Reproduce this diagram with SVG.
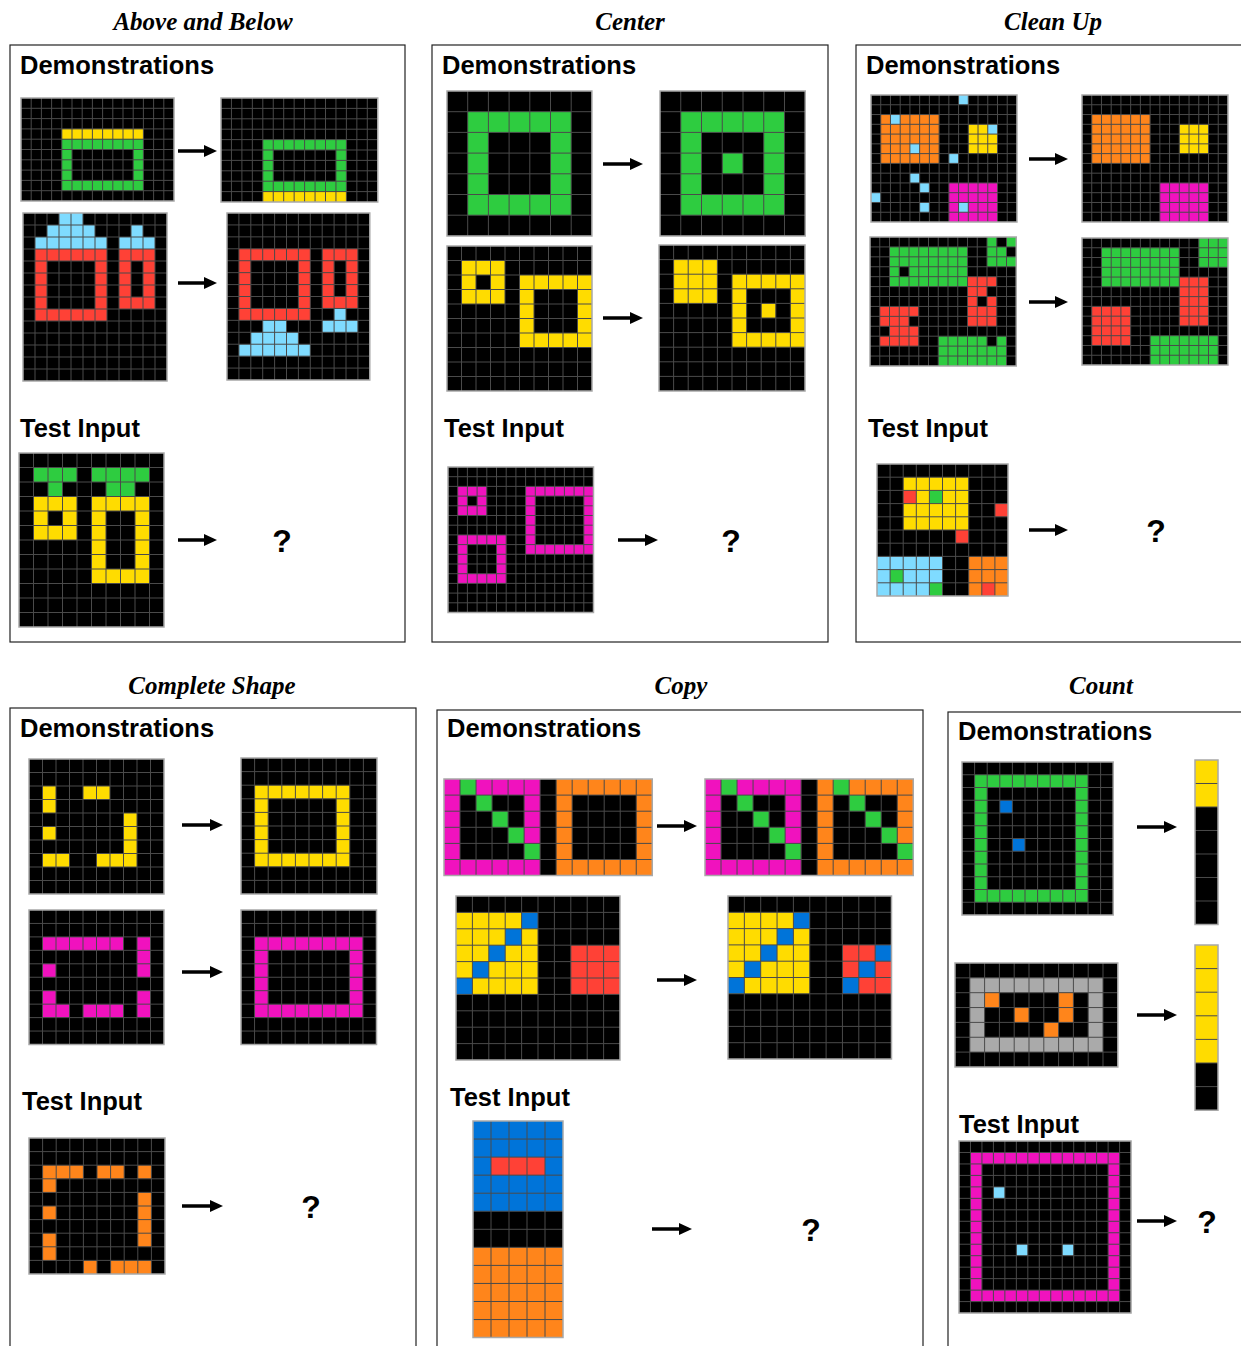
<svg xmlns="http://www.w3.org/2000/svg" xmlns:xlink="http://www.w3.org/1999/xlink" width="1241" height="1346" viewBox="0 0 1241 1346">
<style>
.bx{fill:none;stroke:#222;stroke-width:1.2}
.ti{font-family:"Liberation Serif","Times New Roman",serif;font-weight:bold;font-style:italic;font-size:25px;text-anchor:middle;fill:#000}
.hd{font-family:"Liberation Sans",Arial,sans-serif;font-weight:bold;font-size:25.5px;fill:#000}
.q{font-family:"Liberation Sans",Arial,sans-serif;font-weight:bold;font-size:32px;text-anchor:middle;fill:#000}
.k{fill:#000}.G{fill:#2ECC40}.Y{fill:#FFDC00}.L{fill:#7FDBFF}.R{fill:#FF4136}.P{fill:#F012BE}.O{fill:#FF851B}.B{fill:#0074D9}.S{fill:#AAAAAA}
.eo{fill-rule:evenodd}
.bd{fill:none;stroke:#a8a8a8;stroke-width:1.5;vector-effect:non-scaling-stroke}
.ar{stroke:#000;stroke-width:3.5;fill:none;marker-end:url(#ah)}
</style>
<defs>
<marker id="ah" viewBox="0 0 13 12" refX="5" refY="6" markerWidth="13" markerHeight="12" markerUnits="userSpaceOnUse" orient="auto"><path d="M0,0L13,6L0,12z" fill="#000"/></marker>
<path id="g15x10" fill="none" stroke="#4a4a4a" stroke-width="1" vector-effect="non-scaling-stroke" d="M1,0V10M2,0V10M3,0V10M4,0V10M5,0V10M6,0V10M7,0V10M8,0V10M9,0V10M10,0V10M11,0V10M12,0V10M13,0V10M14,0V10M0,1H15M0,2H15M0,3H15M0,4H15M0,5H15M0,6H15M0,7H15M0,8H15M0,9H15"/>
<path id="g12x14" fill="none" stroke="#4a4a4a" stroke-width="1" vector-effect="non-scaling-stroke" d="M1,0V14M2,0V14M3,0V14M4,0V14M5,0V14M6,0V14M7,0V14M8,0V14M9,0V14M10,0V14M11,0V14M0,1H12M0,2H12M0,3H12M0,4H12M0,5H12M0,6H12M0,7H12M0,8H12M0,9H12M0,10H12M0,11H12M0,12H12M0,13H12"/>
<path id="g10x12" fill="none" stroke="#4a4a4a" stroke-width="1" vector-effect="non-scaling-stroke" d="M1,0V12M2,0V12M3,0V12M4,0V12M5,0V12M6,0V12M7,0V12M8,0V12M9,0V12M0,1H10M0,2H10M0,3H10M0,4H10M0,5H10M0,6H10M0,7H10M0,8H10M0,9H10M0,10H10M0,11H10"/>
<path id="g7x7" fill="none" stroke="#4a4a4a" stroke-width="1" vector-effect="non-scaling-stroke" d="M1,0V7M2,0V7M3,0V7M4,0V7M5,0V7M6,0V7M0,1H7M0,2H7M0,3H7M0,4H7M0,5H7M0,6H7"/>
<path id="g10x10" fill="none" stroke="#4a4a4a" stroke-width="1" vector-effect="non-scaling-stroke" d="M1,0V10M2,0V10M3,0V10M4,0V10M5,0V10M6,0V10M7,0V10M8,0V10M9,0V10M0,1H10M0,2H10M0,3H10M0,4H10M0,5H10M0,6H10M0,7H10M0,8H10M0,9H10"/>
<path id="g15x15" fill="none" stroke="#4a4a4a" stroke-width="1" vector-effect="non-scaling-stroke" d="M1,0V15M2,0V15M3,0V15M4,0V15M5,0V15M6,0V15M7,0V15M8,0V15M9,0V15M10,0V15M11,0V15M12,0V15M13,0V15M14,0V15M0,1H15M0,2H15M0,3H15M0,4H15M0,5H15M0,6H15M0,7H15M0,8H15M0,9H15M0,10H15M0,11H15M0,12H15M0,13H15M0,14H15"/>
<path id="g15x13" fill="none" stroke="#4a4a4a" stroke-width="1" vector-effect="non-scaling-stroke" d="M1,0V13M2,0V13M3,0V13M4,0V13M5,0V13M6,0V13M7,0V13M8,0V13M9,0V13M10,0V13M11,0V13M12,0V13M13,0V13M14,0V13M0,1H15M0,2H15M0,3H15M0,4H15M0,5H15M0,6H15M0,7H15M0,8H15M0,9H15M0,10H15M0,11H15M0,12H15"/>
<path id="g13x6" fill="none" stroke="#4a4a4a" stroke-width="1" vector-effect="non-scaling-stroke" d="M1,0V6M2,0V6M3,0V6M4,0V6M5,0V6M6,0V6M7,0V6M8,0V6M9,0V6M10,0V6M11,0V6M12,0V6M0,1H13M0,2H13M0,3H13M0,4H13M0,5H13"/>
<path id="g5x12" fill="none" stroke="#4a4a4a" stroke-width="1" vector-effect="non-scaling-stroke" d="M1,0V12M2,0V12M3,0V12M4,0V12M0,1H5M0,2H5M0,3H5M0,4H5M0,5H5M0,6H5M0,7H5M0,8H5M0,9H5M0,10H5M0,11H5"/>
<path id="g12x12" fill="none" stroke="#4a4a4a" stroke-width="1" vector-effect="non-scaling-stroke" d="M1,0V12M2,0V12M3,0V12M4,0V12M5,0V12M6,0V12M7,0V12M8,0V12M9,0V12M10,0V12M11,0V12M0,1H12M0,2H12M0,3H12M0,4H12M0,5H12M0,6H12M0,7H12M0,8H12M0,9H12M0,10H12M0,11H12"/>
<path id="g1x7" fill="none" stroke="#4a4a4a" stroke-width="1" vector-effect="non-scaling-stroke" d="M0,1H1M0,2H1M0,3H1M0,4H1M0,5H1M0,6H1"/>
<path id="g11x7" fill="none" stroke="#4a4a4a" stroke-width="1" vector-effect="non-scaling-stroke" d="M1,0V7M2,0V7M3,0V7M4,0V7M5,0V7M6,0V7M7,0V7M8,0V7M9,0V7M10,0V7M0,1H11M0,2H11M0,3H11M0,4H11M0,5H11M0,6H11"/>
</defs>
<rect width="1241" height="1346" fill="#fff"/>

<!-- Panel: Above and Below -->
<g id="panel-above-below">
<rect class="bx" x="10" y="45" width="395" height="597"/>
<text class="ti" x="203" y="30">Above and Below</text>
<text class="hd" x="20" y="74">Demonstrations</text>
<text class="hd" x="20" y="437">Test Input</text>
<g id="ab-d1-in" transform="translate(21,98) scale(10.2,10.3)">
<rect class="k" width="15" height="10"/>
<rect class="Y" x="4" y="3" width="8" height="1"/>
<path class="G eo" d="M4,4h8v5h-8zM5,5h6v3h-6z"/>
<use href="#g15x10"/><rect class="bd" width="15" height="10"/>
</g>
<g id="ab-d1-out" transform="translate(221,98) scale(10.45,10.4)">
<rect class="k" width="15" height="10"/>
<path class="G eo" d="M4,4h8v5h-8zM5,5h6v3h-6z"/>
<rect class="Y" x="4" y="9" width="8" height="1"/>
<use href="#g15x10"/><rect class="bd" width="15" height="10"/>
</g>
<g id="ab-d2-in" transform="translate(23,213) scale(12,12)">
<rect class="k" width="12" height="14"/>
<path class="L" d="M3,0h2v1h-2zM2,1h4v1h-4zM1,2h6v1h-6zM9,1h1v1h-1zM8,2h3v1h-3z"/>
<path class="R eo" d="M1,3h6v6h-6zM2,4h4v4h-4zM8,3h3v5h-3zM9,4h1v3h-1z"/>
<use href="#g12x14"/><rect class="bd" width="12" height="14"/>
</g>
<g id="ab-d2-out" transform="translate(227,213) scale(11.9,11.93)">
<rect class="k" width="12" height="14"/>
<path class="R eo" d="M1,3h6v6h-6zM2,4h4v4h-4zM8,3h3v5h-3zM9,4h1v3h-1z"/>
<path class="L" d="M3,9h2v1h-2zM2,10h4v1h-4zM1,11h6v1h-6zM9,8h1v1h-1zM8,9h3v1h-3z"/>
<use href="#g12x14"/><rect class="bd" width="12" height="14"/>
</g>
<g id="ab-test" transform="translate(19,453) scale(14.5,14.5)">
<rect class="k" width="10" height="12"/>
<path class="G" d="M1,1h3v1h-3zM5,1h4v1h-4zM2,2h1v1h-1zM6,2h2v1h-2z"/>
<path class="Y eo" d="M1,3h3v3h-3zM2,4h1v1h-1zM5,3h4v6h-4zM6,4h2v4h-2z"/>
<use href="#g10x12"/><rect class="bd" width="10" height="12"/>
</g>
<text class="q" x="282" y="552">?</text>
</g>

<!-- Panel: Center -->
<g id="panel-center">
<rect class="bx" x="432" y="45" width="396" height="597"/>
<text class="ti" x="630" y="30">Center</text>
<text class="hd" x="442" y="74">Demonstrations</text>
<text class="hd" x="444" y="437">Test Input</text>
<g id="ce-d1-in" transform="translate(447,91) scale(20.7,20.7)">
<rect class="k" width="7" height="7"/>
<path class="G eo" d="M1,1h5v5h-5zM2,2h3v3h-3z"/>
<use href="#g7x7"/><rect class="bd" width="7" height="7"/>
</g>
<g id="ce-d1-out" transform="translate(660,91) scale(20.75,20.7)">
<rect class="k" width="7" height="7"/>
<path class="G eo" d="M1,1h5v5h-5zM2,2h3v3h-3zM3,3h1v1h-1z"/>
<use href="#g7x7"/><rect class="bd" width="7" height="7"/>
</g>
<g id="ce-d2-in" transform="translate(447,246) scale(14.5,14.5)">
<rect class="k" width="10" height="10"/>
<path class="Y eo" d="M1,1h3v3h-3zM2,2h1v1h-1zM5,2h5v5h-5zM6,3h3v3h-3z"/>
<use href="#g10x10"/><rect class="bd" width="10" height="10"/>
</g>
<g id="ce-d2-out" transform="translate(659,245) scale(14.6,14.6)">
<rect class="k" width="10" height="10"/>
<path class="Y eo" d="M1,1h3v3h-3zM5,2h5v5h-5zM6,3h3v3h-3zM7,4h1v1h-1z"/>
<use href="#g10x10"/><rect class="bd" width="10" height="10"/>
</g>
<g id="ce-test" transform="translate(448,467) scale(9.7,9.7)">
<rect class="k" width="15" height="15"/>
<path class="P eo" d="M1,2h3v3h-3zM2,3h1v1h-1zM8,2h7v7h-7zM9,3h5v5h-5zM1,7h5v5h-5zM2,8h3v3h-3z"/>
<use href="#g15x15"/><rect class="bd" width="15" height="15"/>
</g>
<text class="q" x="731" y="552">?</text>
</g>

<!-- Panel: Clean Up -->
<g id="panel-clean-up">
<rect class="bx" x="856" y="45" width="400" height="597"/>
<text class="ti" x="1053" y="30">Clean Up</text>
<text class="hd" x="866" y="74">Demonstrations</text>
<text class="hd" x="868" y="437">Test Input</text>
<g id="cu-d1-in" transform="translate(871,95) scale(9.73,9.77)">
<rect class="k" width="15" height="13"/>
<rect class="O" x="1" y="2" width="6" height="5"/>
<rect class="Y" x="10" y="3" width="3" height="3"/>
<rect class="P" x="8" y="9" width="5" height="4"/>
<path class="L" d="M9,0h1v1h-1zM2,2h1v1h-1zM4,5h1v1h-1zM12,3h1v1h-1zM8,6h1v1h-1zM4,8h1v1h-1zM5,9h1v1h-1zM0,10h1v1h-1zM5,11h1v1h-1zM9,11h1v1h-1z"/>
<use href="#g15x13"/><rect class="bd" width="15" height="13"/>
</g>
<g id="cu-d1-out" transform="translate(1082,95) scale(9.73,9.77)">
<rect class="k" width="15" height="13"/>
<rect class="O" x="1" y="2" width="6" height="5"/>
<rect class="Y" x="10" y="3" width="3" height="3"/>
<rect class="P" x="8" y="9" width="5" height="4"/>
<use href="#g15x13"/><rect class="bd" width="15" height="13"/>
</g>
<g id="cu-d2-in" transform="translate(870,237) scale(9.75,9.92)">
<rect class="k" width="15" height="13"/>
<rect class="G" x="2" y="1" width="8" height="4"/>
<rect class="G" x="12" y="0" width="3" height="3"/>
<rect class="G" x="7" y="10" width="7" height="3"/>
<rect class="R" x="10" y="4" width="3" height="5"/>
<rect class="R" x="1" y="7" width="4" height="4"/>
<path class="k" d="M3,3h1v1h-1zM13,0h1v1h-1zM14,1h1v1h-1zM12,10h1v1h-1zM12,5h1v1h-1zM11,6h1v1h-1zM4,8h1v1h-1zM1,9h1v1h-1z"/>
<use href="#g15x13"/><rect class="bd" width="15" height="13"/>
</g>
<g id="cu-d2-out" transform="translate(1082,238) scale(9.73,9.77)">
<rect class="k" width="15" height="13"/>
<rect class="G" x="2" y="1" width="8" height="4"/>
<rect class="G" x="12" y="0" width="3" height="3"/>
<rect class="G" x="7" y="10" width="7" height="3"/>
<rect class="R" x="10" y="4" width="3" height="5"/>
<rect class="R" x="1" y="7" width="4" height="4"/>
<use href="#g15x13"/><rect class="bd" width="15" height="13"/>
</g>
<g id="cu-test" transform="translate(877,464) scale(13.1,13.2)">
<rect class="k" width="10" height="10"/>
<rect class="Y" x="2" y="1" width="5" height="4"/>
<rect class="L" x="0" y="7" width="5" height="3"/>
<rect class="O" x="7" y="7" width="3" height="3"/>
<path class="R" d="M2,2h1v1h-1zM9,3h1v1h-1zM6,5h1v1h-1zM8,9h1v1h-1z"/>
<path class="G" d="M4,2h1v1h-1zM1,8h1v1h-1zM4,9h1v1h-1z"/>
<use href="#g10x10"/><rect class="bd" width="10" height="10"/>
</g>
<text class="q" x="1156" y="542">?</text>
</g>

<!-- Panel: Complete Shape -->
<g id="panel-complete-shape">
<rect class="bx" x="10" y="708" width="406" height="660"/>
<text class="ti" x="212" y="694">Complete Shape</text>
<text class="hd" x="20" y="737">Demonstrations</text>
<text class="hd" x="22" y="1110">Test Input</text>
<g id="cs-d1-in" transform="translate(29,759) scale(13.5,13.5)">
<rect class="k" width="10" height="10"/>
<path class="Y" d="M1,2h1v2h-1zM1,5h1v1h-1zM1,7h2v1h-2zM4,2h2v1h-2zM7,4h1v4h-1zM5,7h2v1h-2z"/>
<use href="#g10x10"/><rect class="bd" width="10" height="10"/>
</g>
<g id="cs-d1-out" transform="translate(241,758) scale(13.6,13.6)">
<rect class="k" width="10" height="10"/>
<path class="Y eo" d="M1,2h7v6h-7zM2,3h5v4h-5z"/>
<use href="#g10x10"/><rect class="bd" width="10" height="10"/>
</g>
<g id="cs-d2-in" transform="translate(29,910) scale(13.5,13.45)">
<rect class="k" width="10" height="10"/>
<path class="P" d="M1,2h6v1h-6zM8,2h1v3h-1zM1,4h1v1h-1zM1,6h1v2h-1zM2,7h1v1h-1zM4,7h3v1h-3zM8,6h1v2h-1z"/>
<use href="#g10x10"/><rect class="bd" width="10" height="10"/>
</g>
<g id="cs-d2-out" transform="translate(241,910) scale(13.55,13.45)">
<rect class="k" width="10" height="10"/>
<path class="P eo" d="M1,2h8v6h-8zM2,3h6v4h-6z"/>
<use href="#g10x10"/><rect class="bd" width="10" height="10"/>
</g>
<g id="cs-test" transform="translate(29,1138) scale(13.6,13.6)">
<rect class="k" width="10" height="10"/>
<path class="O" d="M1,2h3v1h-3zM5,2h2v1h-2zM8,2h1v1h-1zM1,3h1v1h-1zM8,4h1v4h-1zM1,5h1v1h-1zM1,7h1v2h-1zM4,9h1v1h-1zM6,9h3v1h-3z"/>
<use href="#g10x10"/><rect class="bd" width="10" height="10"/>
</g>
<text class="q" x="311" y="1218">?</text>
</g>

<!-- Panel: Copy -->
<g id="panel-copy">
<rect class="bx" x="437" y="710" width="486" height="660"/>
<text class="ti" x="681" y="694">Copy</text>
<text class="hd" x="447" y="737">Demonstrations</text>
<text class="hd" x="450" y="1106">Test Input</text>
<g id="cp-d1-in" transform="translate(444,779) scale(16.02,16.1)">
<rect class="k" width="13" height="6"/>
<path class="P eo" d="M0,0h6v6h-6zM1,1h4v4h-4z"/>
<path class="O eo" d="M7,0h6v6h-6zM8,1h4v4h-4z"/>
<path class="G" d="M1,0h1v1h-1zM2,1h1v1h-1zM3,2h1v1h-1zM4,3h1v1h-1zM5,4h1v1h-1z"/>
<use href="#g13x6"/><rect class="bd" width="13" height="6"/>
</g>
<g id="cp-d1-out" transform="translate(705,779) scale(16.02,16.1)">
<rect class="k" width="13" height="6"/>
<path class="P eo" d="M0,0h6v6h-6zM1,1h4v4h-4z"/>
<path class="O eo" d="M7,0h6v6h-6zM8,1h4v4h-4z"/>
<path class="G" d="M1,0h1v1h-1zM2,1h1v1h-1zM3,2h1v1h-1zM4,3h1v1h-1zM5,4h1v1h-1zM8,0h1v1h-1zM9,1h1v1h-1zM10,2h1v1h-1zM11,3h1v1h-1zM12,4h1v1h-1z"/>
<use href="#g13x6"/><rect class="bd" width="13" height="6"/>
</g>
<g id="cp-d2-in" transform="translate(456,896) scale(16.4,16.4)">
<rect class="k" width="10" height="10"/>
<rect class="Y" x="0" y="1" width="5" height="5"/>
<rect class="R" x="7" y="3" width="3" height="3"/>
<path class="B" d="M4,1h1v1h-1zM3,2h1v1h-1zM2,3h1v1h-1zM1,4h1v1h-1zM0,5h1v1h-1z"/>
<use href="#g10x10"/><rect class="bd" width="10" height="10"/>
</g>
<g id="cp-d2-out" transform="translate(728,896) scale(16.35,16.3)">
<rect class="k" width="10" height="10"/>
<rect class="Y" x="0" y="1" width="5" height="5"/>
<rect class="R" x="7" y="3" width="3" height="3"/>
<path class="B" d="M4,1h1v1h-1zM3,2h1v1h-1zM2,3h1v1h-1zM1,4h1v1h-1zM0,5h1v1h-1zM9,3h1v1h-1zM8,4h1v1h-1zM7,5h1v1h-1z"/>
<use href="#g10x10"/><rect class="bd" width="10" height="10"/>
</g>
<g id="cp-test" transform="translate(473,1121) scale(18,18.05)">
<rect class="k" width="5" height="12"/>
<rect class="B" x="0" y="0" width="5" height="5"/>
<rect class="R" x="1" y="2" width="3" height="1"/>
<rect class="O" x="0" y="7" width="5" height="5"/>
<use href="#g5x12"/><rect class="bd" width="5" height="12"/>
</g>
<text class="q" x="811" y="1241">?</text>
</g>

<!-- Panel: Count -->
<g id="panel-count">
<rect class="bx" x="948" y="712" width="300" height="660"/>
<text class="ti" x="1101" y="694">Count</text>
<text class="hd" x="958" y="740">Demonstrations</text>
<text class="hd" x="959" y="1133">Test Input</text>
<g id="ct-d1-in" transform="translate(962,762) scale(12.6,12.75)">
<rect class="k" width="12" height="12"/>
<path class="G eo" d="M1,1h9v10h-9zM2,2h7v8h-7z"/>
<path class="B" d="M3,3h1v1h-1zM4,6h1v1h-1z"/>
<use href="#g12x12"/><rect class="bd" width="12" height="12"/>
</g>
<g id="ct-d1-out" transform="translate(1195,760) scale(23,23.5)">
<rect class="k" width="1" height="7"/>
<rect class="Y" x="0" y="0" width="1" height="2"/>
<use href="#g1x7"/><rect class="bd" width="1" height="7"/>
</g>
<g id="ct-d2-in" transform="translate(955,963) scale(14.8,14.85)">
<rect class="k" width="11" height="7"/>
<path class="S eo" d="M1,1h9v5h-9zM2,2h7v3h-7z"/>
<path class="O" d="M2,2h1v1h-1zM7,2h1v1h-1zM4,3h1v1h-1zM7,3h1v1h-1zM6,4h1v1h-1z"/>
<use href="#g11x7"/><rect class="bd" width="11" height="7"/>
</g>
<g id="ct-d2-out" transform="translate(1195,945) scale(23,23.6)">
<rect class="k" width="1" height="7"/>
<rect class="Y" x="0" y="0" width="1" height="5"/>
<use href="#g1x7"/><rect class="bd" width="1" height="7"/>
</g>
<g id="ct-test" transform="translate(959,1141) scale(11.47,11.47)">
<rect class="k" width="15" height="15"/>
<path class="P eo" d="M1,1h13v13h-13zM2,2h11v11h-11z"/>
<path class="L" d="M3,4h1v1h-1zM5,9h1v1h-1zM9,9h1v1h-1z"/>
<use href="#g15x15"/><rect class="bd" width="15" height="15"/>
</g>
<text class="q" x="1207" y="1233">?</text>
</g>

<!-- Connectors -->
<g id="connectors">
<line class="ar" x1="178" y1="151" x2="209" y2="151"/>
<line class="ar" x1="178" y1="283" x2="209" y2="283"/>
<line class="ar" x1="178" y1="540" x2="209" y2="540"/>
<line class="ar" x1="603" y1="164" x2="635" y2="164"/>
<line class="ar" x1="603" y1="318" x2="635" y2="318"/>
<line class="ar" x1="618" y1="540" x2="650" y2="540"/>
<line class="ar" x1="1029" y1="159" x2="1060" y2="159"/>
<line class="ar" x1="1029" y1="302" x2="1060" y2="302"/>
<line class="ar" x1="1029" y1="530" x2="1060" y2="530"/>
<line class="ar" x1="182" y1="825" x2="215" y2="825"/>
<line class="ar" x1="182" y1="972" x2="215" y2="972"/>
<line class="ar" x1="182" y1="1206" x2="215" y2="1206"/>
<line class="ar" x1="657" y1="826" x2="689" y2="826"/>
<line class="ar" x1="657" y1="980" x2="689" y2="980"/>
<line class="ar" x1="652" y1="1229" x2="684" y2="1229"/>
<line class="ar" x1="1137" y1="827" x2="1169" y2="827"/>
<line class="ar" x1="1137" y1="1015" x2="1169" y2="1015"/>
<line class="ar" x1="1137" y1="1221" x2="1169" y2="1221"/>
</g>
</svg>
